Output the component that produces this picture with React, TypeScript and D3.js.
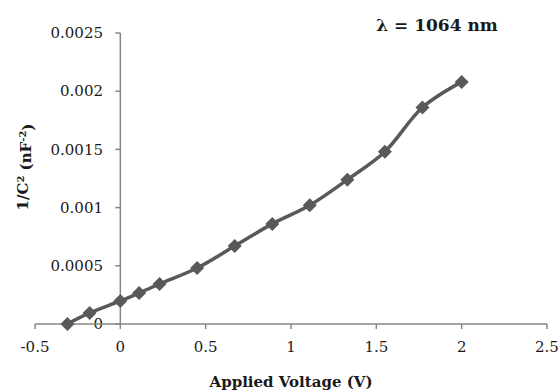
import React from "react";
import * as d3 from "d3";

const voltages = [-0.31, -0.18, 0, 0.11, 0.23, 0.45, 0.67, 0.89, 1.11, 1.33, 1.55, 1.77, 2.0];
const invC2 = [0, 0.000095, 0.000198, 0.000266, 0.000344, 0.000481, 0.00067, 0.00086, 0.00102, 0.00124, 0.00148, 0.00186, 0.00208];
const xTicks = [-0.5, 0, 0.5, 1, 1.5, 2, 2.5];
const yTicks = [0, 0.0005, 0.001, 0.0015, 0.002, 0.0025];
const xTickLabels = ["-0.5", "0", "0.5", "1", "1.5", "2", "2.5"];
const yTickLabels = ["0", "0.0005", "0.001", "0.0015", "0.002", "0.0025"];

const W = 558;
const H = 392;
const FONT = "'DejaVu Serif', serif";

export default function App() {
  const x = d3.scaleLinear().domain([-0.5, 2.5]).range([35, 547]);
  const y = d3.scaleLinear().domain([0, 0.0025]).range([324, 33]);
  const pts = voltages.map((v, i) => [x(v), y(invC2[i])] as [number, number]);
  const line = d3.line().curve(d3.curveCatmullRom.alpha(0.5))(pts) || "";
  const diamond = d3.symbol().type(d3.symbolDiamond2).size(125)() || "";
  const axisColor = "#868686";
  const markColor = "#595959";
  return (
    <svg width={W} height={H} style={{ position: "absolute", left: 0, top: 0, background: "#fff" }}>
      {/* y axis */}
      <line x1={x(0)} x2={x(0)} y1={y(0.0025)} y2={y(0)} stroke={axisColor} strokeWidth={1.5} />
      {yTicks.map((t, i) => (
        <g key={"yt" + i}>
          <line x1={x(0) - 5} x2={x(0)} y1={y(t)} y2={y(t)} stroke={axisColor} strokeWidth={1.5} />
          <text x={103} y={y(t)} dy="0.35em" textAnchor="end" fontFamily={FONT} fontSize={15} fill="#1a1a1a">
            {yTickLabels[i]}
          </text>
        </g>
      ))}
      {/* x axis */}
      <line x1={x(-0.5)} x2={x(2.5)} y1={y(0)} y2={y(0)} stroke={axisColor} strokeWidth={1.5} />
      {xTicks.map((t, i) => (
        <g key={"xt" + i}>
          <line x1={x(t)} x2={x(t)} y1={y(0)} y2={y(0) + 5} stroke={axisColor} strokeWidth={1.5} />
          <text x={x(t)} y={347} dy="0.35em" textAnchor="middle" fontFamily={FONT} fontSize={15} fill="#1a1a1a">
            {xTickLabels[i]}
          </text>
        </g>
      ))}
      {/* series */}
      <path d={line} fill="none" stroke={markColor} strokeWidth={3.5} />
      {pts.map((p, i) => (
        <path key={"m" + i} d={diamond} transform={`translate(${p[0]},${p[1]})`} fill={markColor} />
      ))}
      {/* titles */}
      <text x={291} y={382} dy="0.35em" textAnchor="middle" fontFamily={FONT} fontWeight="bold" fontSize={15} fill="#1a1a1a">
        Applied Voltage (V)
      </text>
      <text transform="translate(23,167) rotate(-90)" dy="0.35em" textAnchor="middle" fontFamily={FONT} fontWeight="bold" fontSize={15} fill="#1a1a1a">
        1/C<tspan dy="-0.45em" fontSize={10}>2</tspan>
        <tspan dy="0.45em"> (nF</tspan>
        <tspan dy="-0.45em" fontSize={10}>-2</tspan>
        <tspan dy="0.45em">)</tspan>
      </text>
      <text x={437} y={25} dy="0.35em" textAnchor="middle" fontFamily={FONT} fontWeight="bold" fontSize={17} fill="#1a1a1a">
        λ = 1064 nm
      </text>
    </svg>
  );
}
